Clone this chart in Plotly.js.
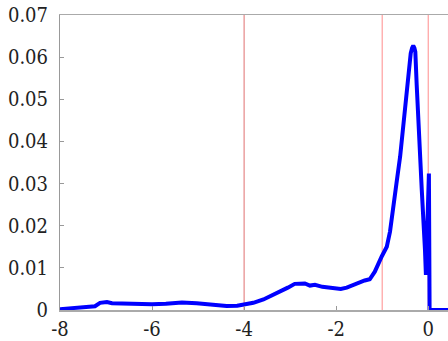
<!DOCTYPE html>
<html><head><meta charset="utf-8">
<script src="https://cdn.plot.ly/plotly-3.0.1.min.js"></script>
<style>
html,body{margin:0;padding:0;background:#fff;}
#plot{width:448px;height:341px;}
</style>
</head><body><div id="plot"></div>
<script>
const xVals = [-8.0, -7.7, -7.4, -7.24, -7.13, -7.05, -6.98, -6.87, -6.6, -6.3, -6.0, -5.7, -5.35, -5.03, -4.7, -4.38, -4.15, -4.0, -3.8, -3.58, -3.4, -3.22, -3.05, -2.9, -2.75, -2.68, -2.57, -2.46, -2.3, -2.06, -1.9, -1.77, -1.65, -1.55, -1.48, -1.38, -1.27, -1.16, -1.01, -0.9, -0.83, -0.76, -0.69, -0.61, -0.49, -0.42, -0.38, -0.35, -0.325, -0.3, -0.28, -0.25, -0.22, -0.18, -0.14, -0.07, -0.05, 0.015, 0.03, 0.06, 0.43];
const yVals = [0.0002, 0.0004, 0.0007, 0.0009, 0.0017, 0.0018, 0.0019, 0.0016, 0.0015, 0.0014, 0.00135, 0.0015, 0.0018, 0.0016, 0.0013, 0.00095, 0.001, 0.0012, 0.0017, 0.0025, 0.0034, 0.0043, 0.0053, 0.0062, 0.0063, 0.0063, 0.0058, 0.006, 0.0055, 0.0051, 0.005, 0.0053, 0.0058, 0.0063, 0.0067, 0.007, 0.0073, 0.0091, 0.0127, 0.015, 0.0186, 0.0237, 0.030, 0.0364, 0.0494, 0.0574, 0.0609, 0.0622, 0.0627, 0.0622, 0.0613, 0.0534, 0.0455, 0.0376, 0.0285, 0.0142, 0.0083, 0.0324, 0.0, 0.0, 0.0];
const vLines = [-4, -1, 0];
const vLineColors = ['#e07070', '#ff8c8c', '#ff8c8c'];
const xTickVals = [-8, -6, -4, -2, 0];
const xTickText = ['-8', '-6', '-4', '-2', '0'];
const yTickVals = [0, 0.01, 0.02, 0.03, 0.04, 0.05, 0.06, 0.07];
const yTickText = ['0', '0.01', '0.02', '0.03', '0.04', '0.05', '0.06', '0.07'];

const shapes = vLines.map((v, i) => ({
  type: 'line', xref: 'x', yref: 'paper', x0: v, x1: v, y0: 0, y1: 1,
  line: {color: vLineColors[i], width: 1}, layer: 'below'
}));

const traces = [{
  x: xVals, y: yVals, type: 'scatter', mode: 'lines',
  line: {color: '#0000ff', width: 4, shape: 'linear'},
  hoverinfo: 'none'
}];

const FAMILY = 'DejaVu Serif Condensed, DejaVu Serif';
const layout = {
  width: 448, height: 341,
  margin: {l: 60, r: 0, t: 15, b: 31, pad: 0},
  paper_bgcolor: '#fff', plot_bgcolor: '#fff',
  showlegend: false,
  font: {family: FAMILY, size: 20, color: '#222'},
  xaxis: {
    range: [-8, 0.43], tickvals: xTickVals, ticktext: xTickText,
    ticks: 'inside', ticklen: 4, tickcolor: '#999', tickwidth: 1,
    showline: true, linecolor: '#aaa', linewidth: 1.5, mirror: true,
    showgrid: false, zeroline: false,
    tickfont: {family: FAMILY, size: 20, color: '#222'}
  },
  yaxis: {
    range: [0, 0.07], tickvals: yTickVals, ticktext: yTickText,
    ticks: 'inside', ticklen: 4, tickcolor: '#999', tickwidth: 1,
    showline: true, linecolor: '#999', linewidth: 1, mirror: false,
    showgrid: false, zeroline: false, ticklabelstandoff: 7,
    tickfont: {family: FAMILY, size: 20, color: '#222'}
  },
  shapes: shapes
};
Plotly.newPlot('plot', traces, layout, {displayModeBar: false, staticPlot: true});
</script>
</body></html>
